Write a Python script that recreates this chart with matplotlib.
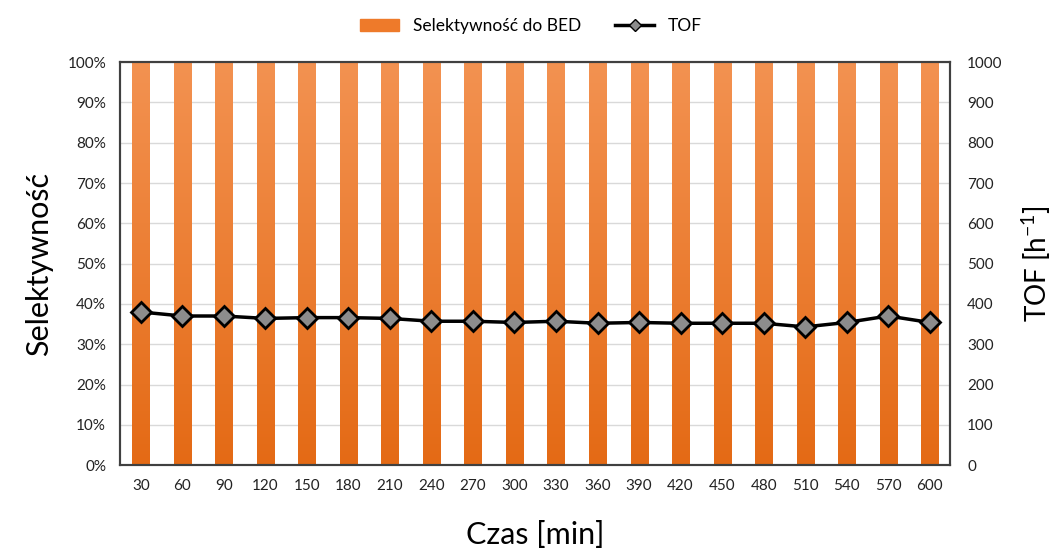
import numpy as np
import matplotlib.pyplot as plt
from matplotlib.colors import LinearSegmentedColormap
from matplotlib.lines import Line2D
from matplotlib.patches import Patch

plt.rcParams['font.family'] = ['Lato', 'DejaVu Sans']
plt.rcParams['mathtext.fontset'] = 'custom'
plt.rcParams['mathtext.rm'] = 'Lato'

czas = [30, 60, 90, 120, 150, 180, 210, 240, 270, 300,
        330, 360, 390, 420, 450, 480, 510, 540, 570, 600]
selektywnosc = [100] * 20
tof = [380, 370, 370, 364, 366, 366, 364, 357, 357, 354,
       357, 352, 354, 352, 352, 352, 343, 354, 370, 354]

fig = plt.figure(figsize=(10.62, 5.55), dpi=100)
ax = fig.add_axes([0.113, 0.162, 0.782, 0.726])
ax2 = ax.twinx()

x = np.arange(len(czas))
bars = ax.bar(x, selektywnosc, width=0.41, color='#EE7A2A', zorder=2)

# gradient fill, lighter at top
cmap = LinearSegmentedColormap.from_list('g', ['#E46A15', '#F39251'])
grad = np.linspace(0, 1, 256).reshape(-1, 1)
for b in bars:
    im = ax.imshow(grad, cmap=cmap, origin='lower', aspect='auto',
                   extent=[b.get_x(), b.get_x() + b.get_width(), 0, b.get_height()],
                   zorder=2.1)
    im.set_clip_path(b)

ax.set_xlim(-0.5, len(czas) - 0.5)
ax.set_ylim(0, 100)
ax.set_yticks(np.arange(0, 101, 10))
ax.set_yticklabels([f'{v}%' for v in range(0, 101, 10)])
ax.set_xticks(x)
ax.set_xticklabels([str(c) for c in czas])
ax.grid(axis='y', color='#D9D9D9', linewidth=1, zorder=0)
ax.set_axisbelow(True)
ax.tick_params(length=0, labelsize=11, colors='#222222', pad=10)

ax2.plot(x, tof, color='black', linewidth=2.5, marker='D', markersize=10,
         markerfacecolor='#8C8C8C', markeredgecolor='black', markeredgewidth=2, zorder=5)
ax2.set_ylim(0, 1000)
ax2.set_yticks(np.arange(0, 1001, 100))
ax2.tick_params(length=0, labelsize=11, colors='#222222', pad=12)

for a in (ax, ax2):
    for s in a.spines.values():
        s.set_color('#404040')
        s.set_linewidth(1.5)

ax.set_ylabel('Selektywność', fontsize=22, labelpad=10)
ax2.set_ylabel('TOF [h$^{\\mathregular{-1}}$]', fontsize=20, labelpad=12)
ax.set_xlabel('Czas [min]', fontsize=22, labelpad=20)

handles = [Patch(color='#EE7A2A', label='Selektywność do BED'),
           Line2D([0], [0], color='black', linewidth=2.5, marker='D', markersize=6,
                  markerfacecolor='#8C8C8C', markeredgecolor='black', label='TOF')]
fig.legend(handles=handles, loc='upper center', bbox_to_anchor=(0.5, 0.995),
           ncol=2, frameon=False, fontsize=12.5, handlelength=2.2, columnspacing=2)

fig.savefig('out.png', dpi=100)
